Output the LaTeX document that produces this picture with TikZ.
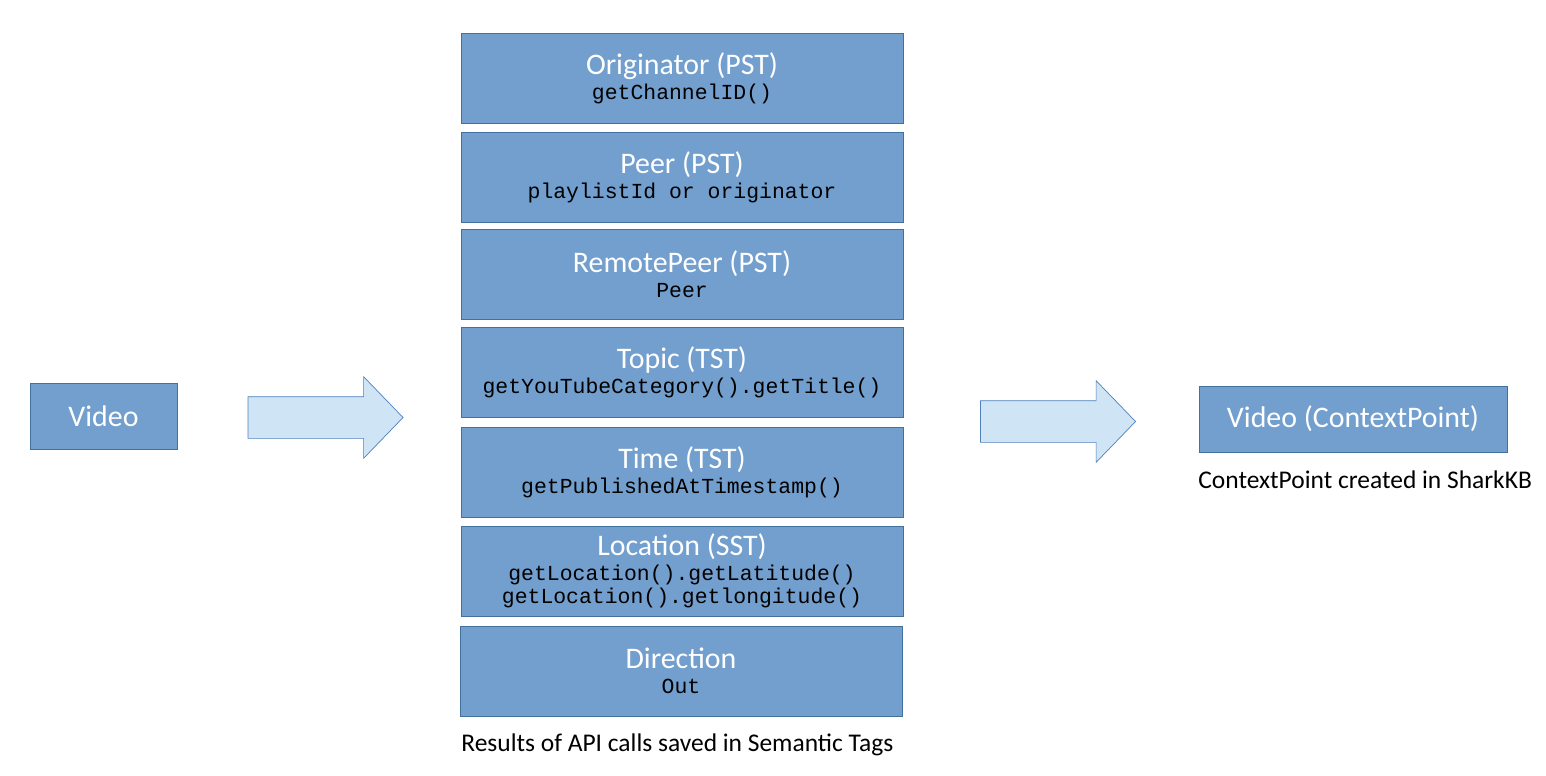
\documentclass[tikz,border=0pt]{standalone}
\usepackage{fontspec}
\setmainfont{Carlito}
\setmonofont{Liberation Mono}
\usepackage{xcolor}
\usetikzlibrary{shapes.arrows, positioning}

\definecolor{tagfill}{RGB}{114,159,206}
\definecolor{tagdraw}{RGB}{65,113,156}
\definecolor{arrfill}{RGB}{207,228,244}
\definecolor{arrdraw}{RGB}{79,129,189}

\newcommand{\apicall}[1]{\textcolor{black}{\fontsize{12.2}{14}\selectfont\ttfamily #1}}

\begin{document}
\begin{tikzpicture}[
  x=0.02cm, y=-0.02cm,
  box/.style={draw=tagdraw, fill=tagfill, align=center, text=white, font=\fontsize{17}{19}\selectfont, inner sep=0pt},
  tagbox/.style={box, minimum width=8.84cm, minimum height=1.8cm},
  blockarr/.style={single arrow, draw=arrdraw, fill=arrfill, inner xsep=0pt, inner ysep=0.41cm,
    single arrow head extend=0.4cm, single arrow tip angle=92, minimum height=3.1cm},
  note/.style={font=\fontsize{14.5}{17}\selectfont, anchor=west, inner sep=0pt}
]
  \useasboundingbox (0,0) rectangle (1546,775);

  \node[box, minimum width=2.94cm, minimum height=1.32cm] (video) at (103.5,416) {Video};
  \node[blockarr] (arrin) at (315.5,417.5) {};

  % semantic tags
  \node[tagbox] (orig) at (682,78.5) {Originator (PST)\\[-5pt]\apicall{getChannelID()}};
  \node[tagbox] (peer) at (682,177) {Peer (PST)\\[-5pt]\apicall{playlistId or originator}};
  \node[tagbox] (remote) at (682,274) {RemotePeer (PST)\\[-5pt]\apicall{Peer}};
  \node[tagbox] (topic) at (682,372) {Topic (TST)\\[-5pt]\apicall{getYouTubeCategory().getTitle()}};
  \node[tagbox] (time) at (682,472.5) {Time (TST)\\[-5pt]\apicall{getPublishedAtTimestamp()}};
  \node[tagbox] (loc) at (682,571) {Location (SST)\\[-5pt]\apicall{getLocation().getLatitude()}\\[-6pt]\apicall{getLocation().getlongitude()}};
  \node[tagbox] (dir) at (681,671) {Direction\\[-5pt]\apicall{Out}};
  \node[note] (tagnote) at (461,745) {Results of API calls saved in Semantic Tags};

  \node[blockarr] (arrout) at (1048,421.5) {};
  \node[box, minimum width=6.16cm, minimum height=1.32cm] (cp) at (1353,419) {Video (ContextPoint)};
  \node[note] (cpnote) at (1198,480) {ContextPoint created in SharkKB};
\end{tikzpicture}
\end{document}
